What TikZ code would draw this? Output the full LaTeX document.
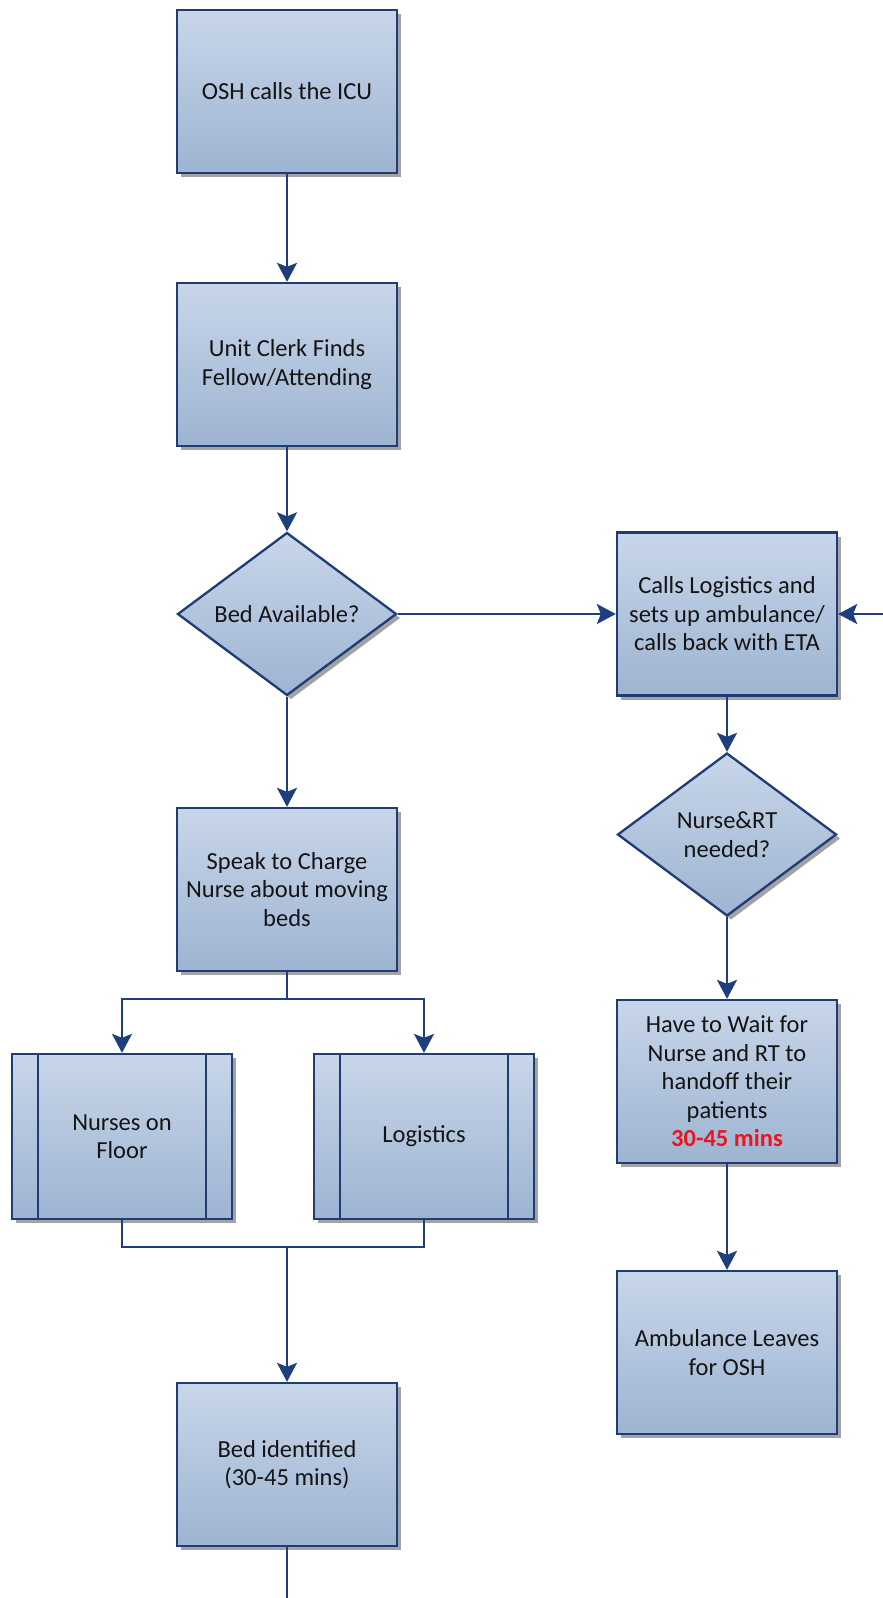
\documentclass[tikz,border=0pt]{standalone}
\usepackage{fontspec}
\setmainfont{Carlito}
\usetikzlibrary{shapes.geometric,arrows.meta,shadows,calc}
\definecolor{boxtop}{HTML}{C8D6E9}
\definecolor{boxbot}{HTML}{9DB4D2}
\definecolor{edgeblue}{HTML}{1F3C74}
\definecolor{linkblue}{HTML}{1E3F7C}
\definecolor{redtxt}{HTML}{E8161E}
\begin{document}
\begin{tikzpicture}[x=1pt,y=-1pt,
  base/.style={draw=edgeblue, line width=2.3pt, top color=boxtop, bottom color=boxbot,
    text=black!92, align=center, inner sep=0pt,
    font=\fontsize{24.5}{28.5}\selectfont,
    drop shadow={shadow xshift=4pt, shadow yshift=-4pt, fill=black!45, opacity=0.8}},
  procbox/.style={base, rectangle, minimum width=220pt, minimum height=163pt},
  decbox/.style={base, diamond, minimum width=219pt, minimum height=163pt},
  predbox/.style={base, rectangle, minimum width=220pt, minimum height=165pt},
  link/.style={draw=linkblue, line width=2.4pt},
  arr/.style={link, -{Stealth[length=19pt,width=20pt,inset=4pt]}}]
\useasboundingbox (0,0) rectangle (883,1598);
% left column
\node[procbox] (osh) at (287,91.5) {OSH calls the ICU};
\node[procbox] (clerk) at (287,364.5) {Unit Clerk Finds\\Fellow/Attending};
\node[decbox] (bed) at (287,614) {Bed Available?};
\node[procbox] (speak) at (287,889.5) {Speak to Charge\\Nurse about moving\\beds};
\node[predbox] (nurses) at (122,1136.5) {Nurses on\\Floor};
\node[predbox] (logi) at (424,1136.5) {Logistics};
\node[procbox] (ident) at (287,1464.5) {Bed identified\\(30-45 mins)};
% right column
\node[procbox] (calls) at (727,614) {Calls Logistics and\\sets up ambulance/\\calls back with ETA};
\node[decbox] (nrt) at (727,834.5) {Nurse\&RT\\needed?};
\node[procbox] (wait) at (727,1081.5) {Have to Wait for\\Nurse and RT to\\handoff their\\patients\\{\color{redtxt}\bfseries 30-45 mins}};
\node[procbox] (amb) at (727,1352.5) {Ambulance Leaves\\for OSH};
% inner bars of predefined process boxes
\foreach \n in {nurses,logi}{
  \draw[draw=edgeblue, line width=2.3pt] ($(\n.north west)+(27,0)$) -- ($(\n.south west)+(27,0)$);
  \draw[draw=edgeblue, line width=2.3pt] ($(\n.north east)+(-27,0)$) -- ($(\n.south east)+(-27,0)$);
}
% free ends
\coordinate (rin) at (883,614);
\coordinate (bend) at (287,1598);
\coordinate (split) at (287,999);
\coordinate (join) at (287,1247);
% connectors
\draw[arr] (osh) -- (clerk);
\draw[arr] (clerk) -- (bed);
\draw[arr] (bed) -- (calls);
\draw[arr] (bed) -- (speak);
\draw[arr] (calls) -- (nrt);
\draw[arr] (nrt) -- (wait);
\draw[arr] (wait) -- (amb);
\draw[arr] (rin) -- (calls.east);
\draw[link] (speak.south) -- (split);
\draw[arr] (split) -| (nurses.north);
\draw[arr] (split) -| (logi.north);
\draw[link] (nurses.south) |- (join);
\draw[link] (logi.south) |- (join);
\draw[arr] (join) -- (ident.north);
\draw[link] (ident.south) -- (bend);
\end{tikzpicture}
\end{document}
